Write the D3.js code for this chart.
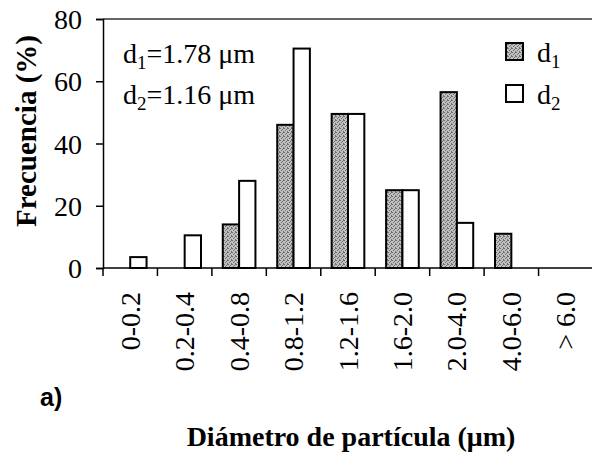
<!DOCTYPE html>
<html>
<head>
<meta charset="utf-8">
<script src="https://cdn.jsdelivr.net/npm/d3@7/dist/d3.min.js"></script>
<style>
  html, body { margin: 0; padding: 0; background: #fff; }
  svg { display: block; }
</style>
</head>
<body>
<svg id="chart" width="592" height="466"></svg>
<script>
// Particle size classes (µm) and frequency (%) for the two samples
const categories = ["0-0.2", "0.2-0.4", "0.4-0.8", "0.8-1.2", "1.2-1.6", "1.6-2.0", "2.0-4.0", "4.0-6.0", "> 6.0"];
const d1Values = [0, 0, 14, 46, 49.5, 25, 56.5, 11, 0];
const d2Values = [3.5, 10.5, 28, 70.5, 49.5, 25, 14.5, 0, 0];
const yTicks = [0, 20, 40, 60, 80];
const seriesNames = ["1", "2"];           // subscripts of d
const meanDiameters = ["1.78", "1.16"];   // mean diameters printed in the plot

const serif = "'Liberation Serif', 'Times New Roman', serif";
const svg = d3.select("#chart");

const plot = { left: 103, right: 593, top: 19, bottom: 268 };

const x = d3.scaleBand().domain(categories).range([plot.left, plot.right]).padding(0);
const y = d3.scaleLinear().domain([0, 80]).range([plot.bottom, plot.top]);

// stippled grey fill for d1 bars
const defs = svg.append("defs");
const pat = defs.append("pattern")
  .attr("id", "stipple").attr("patternUnits", "userSpaceOnUse")
  .attr("width", 4).attr("height", 4);
pat.append("rect").attr("width", 4).attr("height", 4).attr("fill", "#c0c0c0");
[[0, 0], [2, 1], [1, 2], [3, 3], [3, 0]].forEach(([px, py]) => {
  pat.append("rect").attr("x", px).attr("y", py).attr("width", 1).attr("height", 1).attr("fill", "#6e6e6e");
});

const barW = x.bandwidth() * 0.30;

const rows = categories.map((c, i) => ({ c, d1: d1Values[i], d2: d2Values[i] }));

// d1 bars (left of the class centre)
svg.append("g").selectAll("rect")
  .data(rows.filter(r => r.d1 > 0))
  .join("rect")
  .attr("x", r => x(r.c) + x.bandwidth() / 2 - barW)
  .attr("y", r => y(r.d1))
  .attr("width", barW)
  .attr("height", r => y(0) - y(r.d1))
  .attr("fill", "url(#stipple)")
  .attr("stroke", "#000").attr("stroke-width", 2);

// d2 bars (right of the class centre)
svg.append("g").selectAll("rect")
  .data(rows.filter(r => r.d2 > 0))
  .join("rect")
  .attr("x", r => x(r.c) + x.bandwidth() / 2)
  .attr("y", r => y(r.d2))
  .attr("width", barW)
  .attr("height", r => y(0) - y(r.d2))
  .attr("fill", "#fff")
  .attr("stroke", "#000").attr("stroke-width", 2);

// top frame line
svg.append("line")
  .attr("x1", plot.left).attr("x2", plot.right)
  .attr("y1", plot.top).attr("y2", plot.top)
  .attr("stroke", "#333").attr("stroke-width", 1.5);

// y axis
const yAxis = svg.append("g")
  .attr("transform", `translate(${plot.left},0)`)
  .call(d3.axisLeft(y).tickValues(yTicks).tickSize(7).tickPadding(14).tickFormat(d3.format("d")));
yAxis.select(".domain").attr("stroke", "#000").attr("stroke-width", 1.5);
yAxis.selectAll(".tick line").attr("stroke", "#000").attr("stroke-width", 1.5);
yAxis.selectAll(".tick text")
  .attr("font-family", serif).attr("font-size", 28).attr("fill", "#000")
  .attr("dy", "0.34em");

// x axis: ticks on class boundaries
const boundaries = categories.map(c => x(c)).concat([plot.right]);
const xAxisG = svg.append("g").attr("transform", `translate(0,${plot.bottom})`);
xAxisG.append("line")
  .attr("x1", plot.left).attr("x2", plot.right)
  .attr("stroke", "#000").attr("stroke-width", 1.5);
xAxisG.selectAll(".bt")
  .data(boundaries)
  .join("line")
  .attr("class", "bt")
  .attr("x1", d => d).attr("x2", d => d)
  .attr("y1", 0).attr("y2", 8)
  .attr("stroke", "#000").attr("stroke-width", 1.5);

// rotated class labels
svg.append("g").selectAll("text")
  .data(categories)
  .join("text")
  .attr("transform", c => `translate(${x(c) + x.bandwidth() / 2},292) rotate(-90)`)
  .attr("text-anchor", "end")
  .attr("dy", "0.34em")
  .attr("font-family", serif).attr("font-size", 28).attr("fill", "#000")
  .text(c => c);

// axis titles
svg.append("text")
  .attr("transform", "translate(36,131) rotate(-90)")
  .attr("text-anchor", "middle")
  .attr("font-family", serif).attr("font-size", 29).attr("font-weight", "bold")
  .text("Frecuencia (%)");

svg.append("text")
  .attr("x", 351).attr("y", 446)
  .attr("text-anchor", "middle")
  .attr("font-family", serif).attr("font-size", 28).attr("font-weight", "bold")
  .text("Diámetro de partícula (μm)");

svg.append("text")
  .attr("x", 40).attr("y", 406)
  .attr("font-family", "'Liberation Sans', Arial, sans-serif").attr("font-size", 25).attr("font-weight", "bold")
  .text("a)");

// mean diameter annotations
meanDiameters.forEach((v, i) => {
  const t = svg.append("text")
    .attr("x", 123).attr("y", 63 + i * 41)
    .attr("font-family", serif).attr("font-size", 28).attr("fill", "#000");
  t.append("tspan").text("d");
  t.append("tspan").attr("font-size", 19).attr("dy", 6).text(seriesNames[i]);
  t.append("tspan").attr("dy", -6).text(`=${v} μm`);
});

// legend
const legend = svg.append("g");
seriesNames.forEach((s, i) => {
  const ly = 43 + i * 42;
  legend.append("rect")
    .attr("x", 506).attr("y", ly).attr("width", 17).attr("height", 17)
    .attr("fill", i === 0 ? "url(#stipple)" : "#fff")
    .attr("stroke", "#000").attr("stroke-width", 2);
  const t = legend.append("text")
    .attr("x", 537).attr("y", ly + 19)
    .attr("font-family", serif).attr("font-size", 28).attr("fill", "#000");
  t.append("tspan").text("d");
  t.append("tspan").attr("font-size", 19).attr("dy", 6).text(s);
});
</script>
</body>
</html>
